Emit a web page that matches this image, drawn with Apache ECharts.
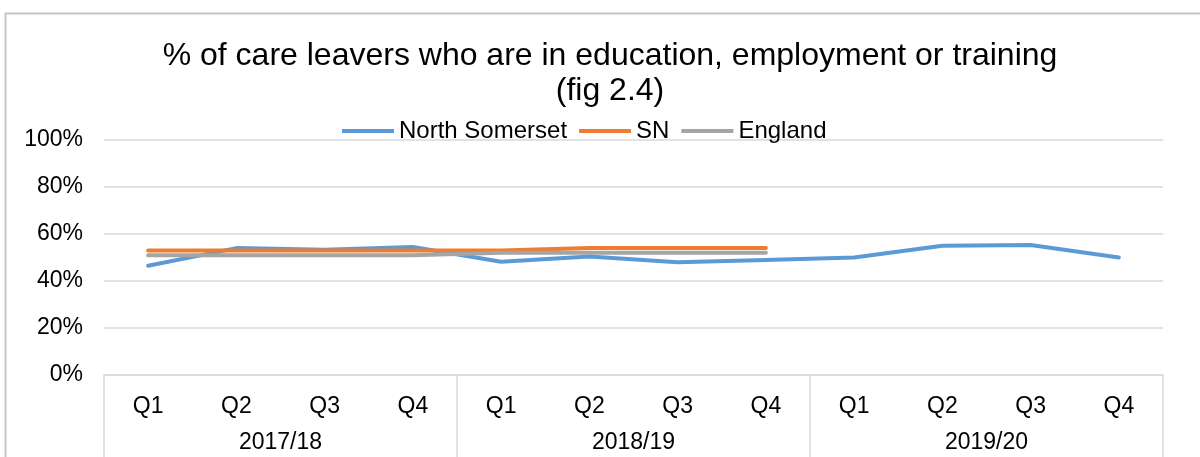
<!DOCTYPE html>
<html>
<head>
<meta charset="utf-8">
<script src="https://cdn.jsdelivr.net/npm/echarts@6/dist/echarts.min.js"></script>
<style>
  html, body { margin: 0; padding: 0; background: #ffffff; }
  #chart { width: 1200px; height: 457px; }
</style>
</head>
<body>
<div id="chart"></div>
<script>
// Quarter labels and the financial years they belong to
const quarters = ['Q1', 'Q2', 'Q3', 'Q4', 'Q1', 'Q2', 'Q3', 'Q4', 'Q1', 'Q2', 'Q3', 'Q4'];
const years = ['2017/18', '2018/19', '2019/20'];

// % of care leavers in education, employment or training
const northSomerset = [46.5, 54.0, 53.3, 54.5, 48.2, 50.4, 48.0, 48.9, 50.0, 55.0, 55.3, 50.0];
const statNeighbours = [53.0, 53.0, 53.0, 53.0, 53.0, 54.0, 54.0, 54.0, null, null, null, null];
const england = [51.0, 51.0, 51.0, 51.0, 52.0, 52.0, 52.0, 52.0, null, null, null, null];

const yTicks = { min: 0, max: 100, interval: 20 };

const FONT = '"Liberation Sans", Arial, sans-serif';
const GRID_COLOR = '#d9d9d9';

const chart = echarts.init(document.getElementById('chart'), null, { renderer: 'canvas' });

chart.setOption({
  animation: false,
  backgroundColor: '#ffffff',
  textStyle: { fontFamily: FONT, color: '#000000' },
  graphic: [{
    type: 'rect',
    left: 3, top: 11,
    shape: { width: 1300, height: 600 },
    style: { fill: 'none', stroke: '#c6c6c6', lineWidth: 2 },
    silent: true, z: 0
  }],
  title: {
    text: '% of care leavers who are in education, employment or training\n(fig 2.4)',
    left: 605, textAlign: 'center', top: 34,
    textStyle: { fontFamily: FONT, fontSize: 32, fontWeight: 'normal', color: '#000000', lineHeight: 35 }
  },
  legend: {
    top: 114, left: 337,
    icon: 'rect', itemWidth: 52, itemHeight: 4, itemGap: 12,
    textStyle: { fontFamily: FONT, fontSize: 24, color: '#000000' },
    data: ['North Somerset', 'SN', 'England']
  },
  grid: { left: 104, right: 37, top: 140, bottom: 82, containLabel: false },
  xAxis: [{
    type: 'category',
    data: quarters,
    boundaryGap: true,
    position: 'bottom',
    axisLine: { show: true, lineStyle: { color: GRID_COLOR, width: 1.5 } },
    axisTick: { show: false },
    axisLabel: { interval: 0, margin: 20, fontFamily: FONT, fontSize: 23, color: '#000000' }
  }, {
    type: 'category',
    data: years,
    boundaryGap: true,
    position: 'bottom',
    axisLine: { show: false },
    axisTick: { show: true, length: 90, interval: 0, lineStyle: { color: GRID_COLOR, width: 1.5 } },
    axisLabel: { interval: 0, margin: 56, fontFamily: FONT, fontSize: 23, color: '#000000' }
  }],
  yAxis: {
    type: 'value',
    min: yTicks.min, max: yTicks.max, interval: yTicks.interval,
    axisLine: { show: false },
    axisTick: { show: false },
    splitLine: { lineStyle: { color: GRID_COLOR, width: 1.5 } },
    axisLabel: { formatter: '{value}%', margin: 21, fontFamily: FONT, fontSize: 23, color: '#000000' }
  },
  series: [{
    name: 'North Somerset', type: 'line', data: northSomerset,
    symbol: 'none', color: '#5B9BD5',
    lineStyle: { width: 4, color: '#5B9BD5', cap: 'round', join: 'round' }
  }, {
    name: 'SN', type: 'line', data: statNeighbours,
    symbol: 'none', color: '#ED7D31',
    lineStyle: { width: 4, color: '#ED7D31', cap: 'round', join: 'round' }
  }, {
    name: 'England', type: 'line', data: england,
    symbol: 'none', color: '#A5A5A5',
    lineStyle: { width: 4, color: '#A5A5A5', cap: 'round', join: 'round' }
  }]
});
</script>
</body>
</html>
